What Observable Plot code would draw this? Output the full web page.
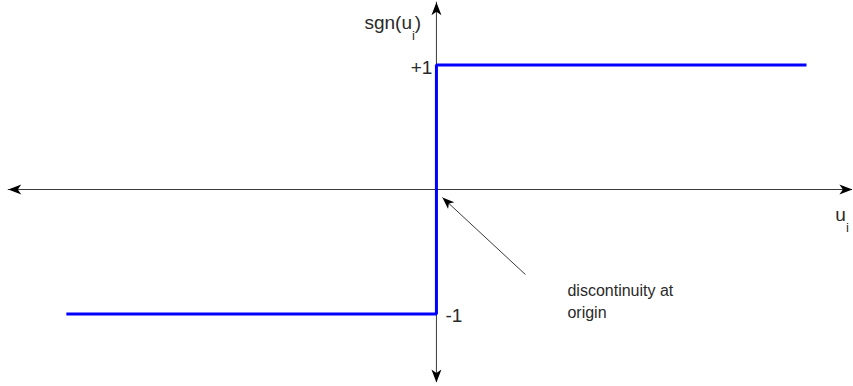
<!DOCTYPE html>
<html><head><meta charset="utf-8">
<script src="https://cdn.jsdelivr.net/npm/d3@7"></script>
<script src="https://cdn.jsdelivr.net/npm/@observablehq/plot@0.6"></script>
<style>html,body{margin:0;padding:0;background:#fff;overflow:hidden}</style>
</head><body><div id="chart"></div>
<script>
// ---- data ----
const stepX = [-1, 0, 0, 1];
const stepY = [-1, -1, 1, 1];
const xAxisEnds = [-1.157, 1.124];
const yAxisEnds = [-1.55, 1.504];
const tickValues = [1, -1];
const tickLabels = ["+1", "-1"];
const yAxisTitle = "sgn(u_i)";
const xAxisTitle = "u_i";
const annotationLines = ["discontinuity at", "origin"];
const annotationTail = [0.2405, -0.683];
const annotationTip = [0.0162, -0.064];

// ---- layout ----
const W = 853, H = 386;
const xDomain = [-1.178, 1.127];
const yDomain = [-1.582, 1.518];
const kx = W / (xDomain[1] - xDomain[0]);
const ky = H / (yDomain[1] - yDomain[0]);

const arrowHead = {
  draw(ctx, size) {
    const s = Math.sqrt(size / Math.PI) / 5;
    ctx.moveTo(0, 0);
    ctx.lineTo(5 * s, 13 * s);
    ctx.lineTo(0, 9.5 * s);
    ctx.lineTo(-5 * s, 13 * s);
    ctx.closePath();
  }
};

const axisHeads = [
  {x: xAxisEnds[0], y: 0, rot: 270},
  {x: xAxisEnds[1], y: 0, rot: 90},
  {x: 0, y: yAxisEnds[1], rot: 0},
  {x: 0, y: yAxisEnds[0], rot: 180}
];

const dxp = (annotationTip[0] - annotationTail[0]) * kx;
const dyp = -(annotationTip[1] - annotationTail[1]) * ky;
const annRot = Math.atan2(dxp, -dyp) * 180 / Math.PI;

const font = "Liberation Sans, Arial, sans-serif";
const lineColor = "#3a3a3a";
const textColor = "#2a2a2a";

const chart = Plot.plot({
  width: W, height: H,
  margin: 0,
  style: {background: "#fff", fontFamily: font},
  x: {domain: xDomain, axis: null},
  y: {domain: yDomain, axis: null},
  marks: [
    Plot.ruleY([0], {x1: xAxisEnds[0], x2: xAxisEnds[1], stroke: lineColor, strokeWidth: 1}),
    Plot.ruleX([0], {y1: yAxisEnds[0], y2: yAxisEnds[1], stroke: lineColor, strokeWidth: 1}),
    Plot.dot(axisHeads, {x: "x", y: "y", rotate: "rot", symbol: arrowHead, r: 5, fill: "#000", stroke: "none"}),
    Plot.line(stepX.map((x, i) => ({x, y: stepY[i]})), {x: "x", y: "y", stroke: "#0000ff", strokeWidth: 3, strokeLinejoin: "miter", strokeLinecap: "butt"}),
    Plot.link([{}], {x1: annotationTail[0], y1: annotationTail[1], x2: annotationTip[0], y2: annotationTip[1], stroke: lineColor, strokeWidth: 1}),
    Plot.dot([{x: annotationTip[0], y: annotationTip[1]}], {x: "x", y: "y", rotate: annRot, symbol: arrowHead, r: 4.6, fill: "#000", stroke: "none"}),
    Plot.text([tickLabels[0]], {x: -4 / 370, y: 0.928, text: d => d, textAnchor: "end", lineAnchor: "bottom", fontSize: 19, fill: textColor}),
    Plot.text([tickLabels[1]], {x: 9 / 370, y: -1.068, text: d => d, textAnchor: "start", lineAnchor: "bottom", fontSize: 19, fill: textColor}),
    Plot.text([yAxisTitle], {x: -0.1946, y: 1.293, text: d => d, textAnchor: "start", lineAnchor: "bottom", fontSize: 19, fill: textColor}),
    Plot.text([xAxisTitle], {x: 1.078, y: -0.249, text: d => d, textAnchor: "start", lineAnchor: "bottom", fontSize: 19, fill: textColor}),
    Plot.text(annotationLines, {x: 0.354, y: (d, i) => -0.859 - i * 22 / 124.5, text: d => d, textAnchor: "start", lineAnchor: "bottom", fontSize: 16, fill: textColor})
  ]
});
document.getElementById("chart").appendChild(chart);

// subscripts
d3.select(chart).selectAll("text").each(function() {
  const el = d3.select(this);
  const t = this.textContent;
  const m = t.match(/^(.*?)_(\w)(.*)$/);
  if (!m) return;
  el.text(null);
  el.append("tspan").text(m[1]);
  el.append("tspan").attr("dy", 11).attr("font-size", 13).text(m[2]);
  if (m[3]) el.append("tspan").attr("dy", -11).text(m[3]);
});
</script>
</body></html>
